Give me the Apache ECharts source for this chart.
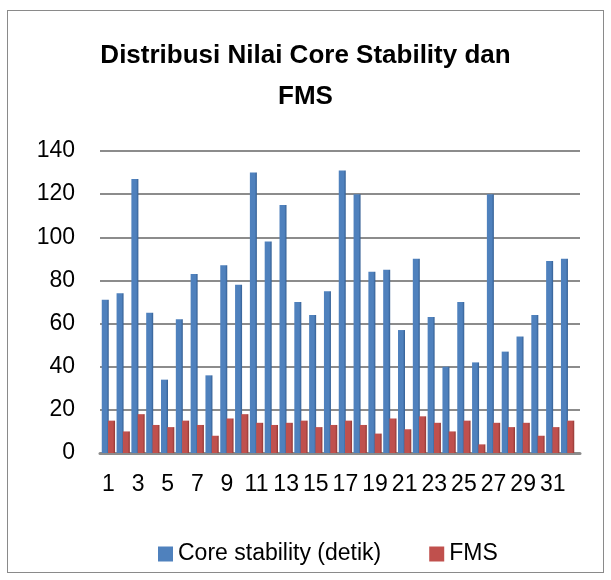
<!DOCTYPE html>
<html>
<head>
<meta charset="utf-8">
<script src="https://cdn.jsdelivr.net/npm/echarts@6/dist/echarts.min.js"></script>
<style>
  html, body { margin: 0; padding: 0; background: #fff; }
  #chart { width: 611px; height: 580px; }
  .frame { position: absolute; left: 7px; top: 10px; width: 595px; height: 561px; border: 1px solid #8a8a8a; pointer-events: none; }
</style>
</head>
<body>
<div id="chart"></div>
<div class="frame"></div>
<script>
// subjects 1..32
const categories = Array.from({ length: 32 }, (_, i) => String(i + 1))
const coreStability = [71, 74, 127, 65, 34, 62, 83, 36, 87, 78, 130, 98, 115, 70, 64, 75,
  131, 120, 84, 85, 57, 90, 63, 40, 70, 42, 120, 47, 54, 64, 89, 90]
const fms = [15, 10, 18, 13, 12, 15, 13, 8, 16, 18, 14, 13, 14, 15, 12, 13,
  15, 13, 9, 16, 11, 17, 14, 10, 15, 4, 14, 12, 14, 8, 12, 15]
const yTicks = { min: 0, max: 140, interval: 20 }

const font = 'Liberation Sans, Arial, sans-serif'
const chart = echarts.init(document.getElementById('chart'))

// light face on the left, darker side on the right, like the 3D bars
const shade = (light, dark) => new echarts.graphic.LinearGradient(0, 0, 1, 0, [
  { offset: 0, color: light },
  { offset: 0.7, color: light },
  { offset: 1, color: dark }
])

chart.setOption({
  animation: false,
  title: {
    text: 'Distribusi Nilai Core Stability dan\nFMS',
    left: 'center',
    top: 30,
    textStyle: { fontFamily: font, fontSize: 26, fontWeight: 'bold', color: '#000', lineHeight: 41 }
  },
  legend: {
    top: 537,
    left: 153,
    itemWidth: 15,
    itemHeight: 15,
    itemGap: 48,
    icon: 'rect',
    textStyle: { fontFamily: font, fontSize: 23, color: '#000', lineHeight: 24 },
    data: [
      { name: 'Core stability (detik)', itemStyle: { color: '#4f81bd' } },
      { name: 'FMS', itemStyle: { color: '#c0504d' } }
    ]
  },
  // grid 0 holds the bars, grid 1 only draws the wider gridlines / floor
  grid: [
    { left: 101, right: 36, top: 151, bottom: 127 },
    { left: 100, right: 31, top: 151, bottom: 127 }
  ],
  xAxis: [
    {
      type: 'category',
      gridIndex: 0,
      data: categories,
      axisLine: { show: false },
      axisTick: { show: false },
      axisLabel: { interval: 1, fontFamily: font, fontSize: 23, color: '#000', margin: 20 }
    },
    {
      type: 'category',
      gridIndex: 1,
      data: categories,
      axisLine: { lineStyle: { color: '#8c8c8c', width: 3 } },
      axisTick: { show: false },
      axisLabel: { show: false }
    }
  ],
  yAxis: [
    {
      type: 'value',
      gridIndex: 0,
      min: yTicks.min,
      max: yTicks.max,
      interval: yTicks.interval,
      axisLine: { show: false },
      axisTick: { show: false },
      axisLabel: { show: false },
      splitLine: { show: false }
    },
    {
      type: 'value',
      gridIndex: 1,
      min: yTicks.min,
      max: yTicks.max,
      interval: yTicks.interval,
      axisLine: { show: false },
      axisTick: { show: false },
      axisLabel: { fontFamily: font, fontSize: 23, color: '#000', margin: 25 },
      splitLine: { lineStyle: { color: '#8c8c8c', width: 2 } }
    }
  ],
  series: [
    {
      name: 'Core stability (detik)',
      type: 'bar',
      xAxisIndex: 0,
      yAxisIndex: 0,
      data: coreStability,
      barWidth: 7,
      barGap: '-10%',
      itemStyle: { color: shade('#4f81bd', '#345f93') }
    },
    {
      name: 'FMS',
      type: 'bar',
      xAxisIndex: 0,
      yAxisIndex: 0,
      data: fms,
      barWidth: 7,
      z: 3,
      itemStyle: { color: shade('#c0504d', '#8f3835') }
    }
  ]
})
</script>
</body>
</html>
